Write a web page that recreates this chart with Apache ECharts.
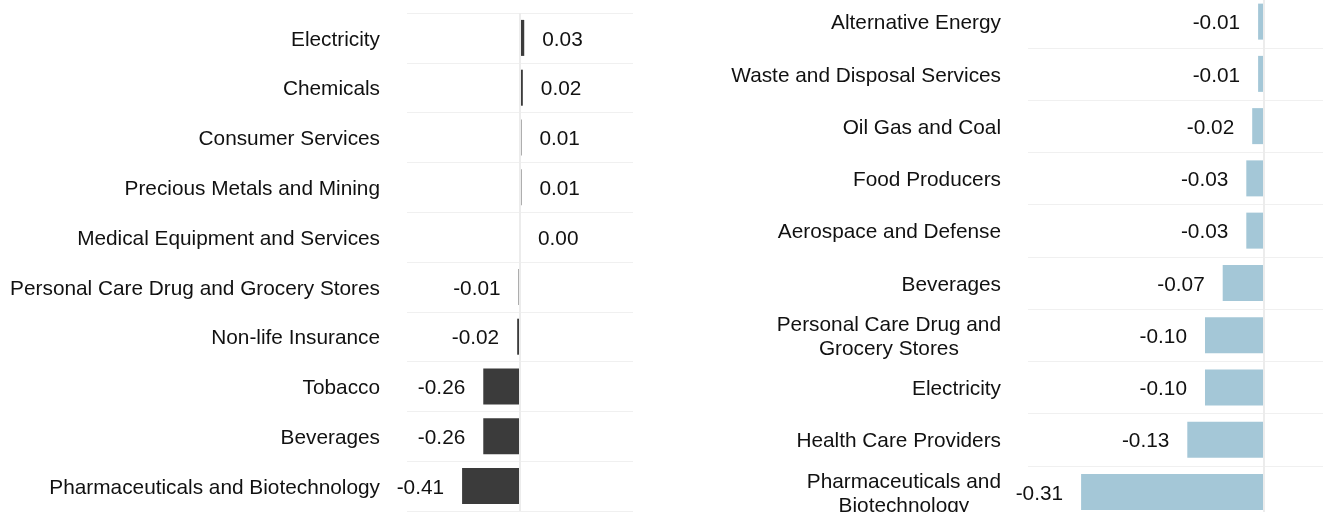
<!DOCTYPE html>
<html>
<head>
<meta charset="utf-8">
<script src="https://cdn.jsdelivr.net/npm/echarts@6/dist/echarts.min.js"></script>
<style>
  html, body { margin: 0; padding: 0; background: #ffffff; }
  #chart { width: 1330px; height: 512px; }
</style>
</head>
<body>
<div id="chart"></div>
<script>
// Sector contributions, left panel (top to bottom)
const leftSectors = [
  'Electricity',
  'Chemicals',
  'Consumer Services',
  'Precious Metals and Mining',
  'Medical Equipment and Services',
  'Personal Care Drug and Grocery Stores',
  'Non-life Insurance',
  'Tobacco',
  'Beverages',
  'Pharmaceuticals and Biotechnology'
];
const leftValues = [0.03, 0.02, 0.01, 0.01, 0.00, -0.01, -0.02, -0.26, -0.26, -0.41];

// Sector contributions, right panel (top to bottom)
const rightSectors = [
  'Alternative Energy',
  'Waste and Disposal Services',
  'Oil Gas and Coal',
  'Food Producers',
  'Aerospace and Defense',
  'Beverages',
  'Personal Care Drug and Grocery Stores',
  'Electricity',
  'Health Care Providers',
  'Pharmaceuticals and Biotechnology'
];
const rightValues = [-0.01, -0.01, -0.02, -0.03, -0.03, -0.07, -0.10, -0.10, -0.13, -0.31];

const FONT = 'Arial';
const FONT_SIZE = 20.8;
const TEXT_COLOR = '#111111';
const GRID_COLOR = '#f0f0f0';

// Word-wrap a label to a pixel width; lines are centred inside the block.
const measureCtx = document.createElement('canvas').getContext('2d');
measureCtx.font = FONT_SIZE + 'px ' + FONT;
function wrapLabel(name, maxWidth) {
  if (measureCtx.measureText(name).width <= maxWidth) return name;
  const words = name.split(' ');
  const lines = [];
  let line = '';
  words.forEach(w => {
    const test = line ? line + ' ' + w : w;
    if (line && measureCtx.measureText(test).width > maxWidth) {
      lines.push(line);
      line = w;
    } else {
      line = test;
    }
  });
  if (line) lines.push(line);
  return lines.map(l => '{c|' + l + '}').join('\n');
}

function panel(index, sectors, values, color, wrapWidth) {
  const yAxis = {
    type: 'category',
    gridIndex: index,
    data: sectors,
    inverse: true,
    axisLine: { show: false },
    axisTick: { show: false },
    splitLine: { show: true, lineStyle: { color: GRID_COLOR, width: 1 } },
    axisLabel: {
      margin: 27,
      padding: [4, 0, 0, 0],
      fontSize: FONT_SIZE,
      fontFamily: FONT,
      color: TEXT_COLOR,
      lineHeight: 24,
      formatter: name => wrapLabel(name, wrapWidth),
      rich: {
        c: { align: 'center', fontSize: FONT_SIZE, fontFamily: FONT, color: TEXT_COLOR, lineHeight: 24 }
      }
    }
  };
  const series = {
    type: 'bar',
    xAxisIndex: index,
    yAxisIndex: index,
    barWidth: 36,
    itemStyle: { color: color },
    data: values.map(v => ({
      value: v,
      label: { position: v < 0 ? 'left' : 'right' }
    })),
    label: {
      show: true,
      distance: 18,
      offset: [0, 2],
      fontSize: FONT_SIZE,
      fontFamily: FONT,
      color: TEXT_COLOR,
      formatter: p => p.value.toFixed(2)
    },
    markLine: {
      silent: true,
      symbol: 'none',
      label: { show: false },
      lineStyle: { color: '#ececec', width: 2, type: 'solid' },
      data: [{ xAxis: 0 }]
    },
    animation: false
  };
  return { yAxis, series };
}

const left = panel(0, leftSectors, leftValues, '#3b3b3b', 10000);
const right = panel(1, rightSectors, rightValues, '#a4c7d7', 290);

const chart = echarts.init(document.getElementById('chart'), null, { renderer: 'canvas' });
chart.setOption({
  backgroundColor: '#ffffff',
  animation: false,
  grid: [
    { left: 407, top: 13, width: 226, height: 498, outerBoundsMode: 'none', containLabel: false },
    { left: 1028, top: -4.5, width: 295, height: 522.5, outerBoundsMode: 'none', containLabel: false }
  ],
  xAxis: [
    { type: 'value', gridIndex: 0, min: -0.8, max: 0.8, show: false, splitLine: { show: false } },
    { type: 'value', gridIndex: 1, min: -0.4, max: 0.1, show: false, splitLine: { show: false } }
  ],
  yAxis: [left.yAxis, right.yAxis],
  series: [left.series, right.series]
});
</script>
</body>
</html>
